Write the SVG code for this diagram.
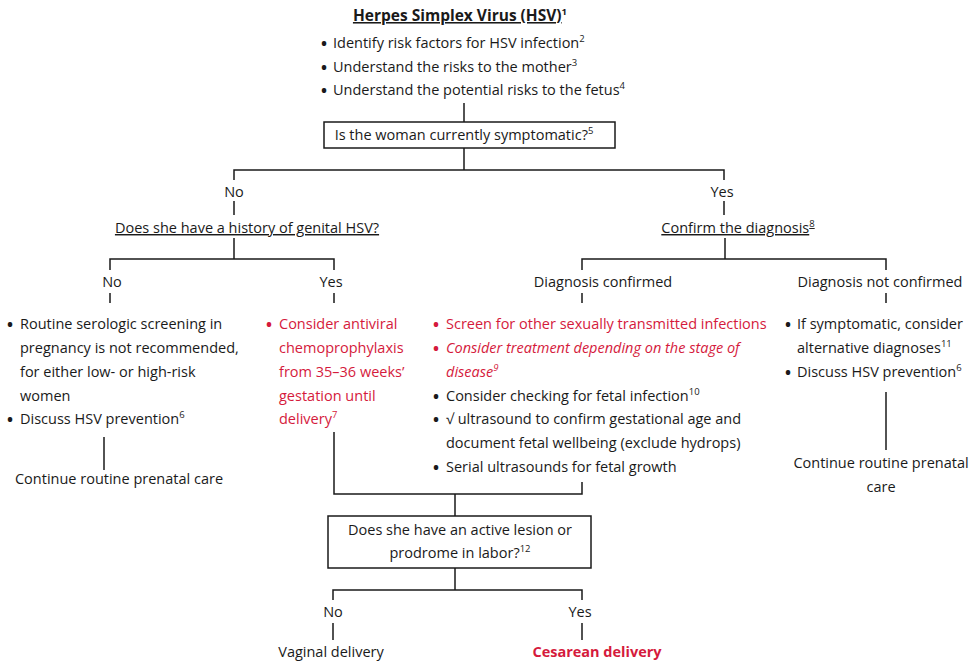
<svg xmlns="http://www.w3.org/2000/svg" width="974" height="664" viewBox="0 0 974 664">
  <style>
    text { font-family: "Open Sans", "Noto Sans", "Liberation Sans", sans-serif; font-size: 14.5px; fill: #1a1a1a; }
    .c { text-anchor: middle; }
    .red, .red text, .red tspan { fill: #d51a3c; }
    .it { font-style: italic; }
    .b { font-weight: bold; }
    .u { text-decoration: underline; }
    .title { font-size: 15.5px; }
    .sup { font-size: 9.5px; }
    .bul { font-size: 16px; font-weight: bold; }
    .ln { stroke: #1a1a1a; stroke-width: 1.5; fill: none; }
    .box { stroke: #1a1a1a; stroke-width: 1.5; fill: #ffffff; }
  </style>

  <!-- connectors -->
  <g id="connectors" class="ln">
    <path d="M464 103V122"/>
    <path d="M464 148V170M234 180V170H724V180"/>
    <path d="M234 201V215M234 238V259M110 270V259H334V270"/>
    <path d="M724 201V215M725 238V259M582 270V259H886V270"/>
    <path d="M110 293V303M334 293V303M582 293V303M886 293V303"/>
    <path d="M104 437V470"/>
    <path d="M886 392V450"/>
    <path d="M334 432V494H582V482M455 494V516"/>
    <path d="M455 568V590M333 600V590H582V600"/>
    <path d="M333 623V640M582 623V640"/>
  </g>

  <!-- header -->
  <g id="title">
    <text class="c b title" x="460" y="21"><tspan class="u">Herpes Simplex Virus (HSV)</tspan><tspan class="sup" dy="-6">1</tspan></text>
    <text x="321" y="48"><tspan class="bul" dy="1">•</tspan><tspan x="333" dy="-1">Identify risk factors for HSV infection</tspan><tspan class="sup" dy="-6">2</tspan></text>
    <text x="321" y="72"><tspan class="bul" dy="1">•</tspan><tspan x="333" dy="-1">Understand the risks to the mother</tspan><tspan class="sup" dy="-6">3</tspan></text>
    <text x="321" y="95"><tspan class="bul" dy="1">•</tspan><tspan x="333" dy="-1">Understand the potential risks to the fetus</tspan><tspan class="sup" dy="-6">4</tspan></text>
  </g>

  <g id="q-symptomatic">
    <rect class="box" x="324" y="122" width="291" height="26"/>
    <text class="c" x="464" y="140">Is the woman currently symptomatic?<tspan class="sup" dy="-6">5</tspan></text>
  </g>

  <!-- not symptomatic branch -->
  <g id="no-symptoms">
    <text class="c" x="234" y="197">No</text>
  </g>
  <g id="q-history">
    <text class="c u" x="247" y="233">Does she have a history of genital HSV?</text>
  </g>
  <g id="no-history">
    <text class="c" x="112" y="287">No</text>
    <text x="7" y="329"><tspan class="bul" dy="1">•</tspan><tspan x="20" dy="-1">Routine serologic screening in</tspan></text>
    <text x="20" y="353">pregnancy is not recommended,</text>
    <text x="20" y="377">for either low- or high-risk</text>
    <text x="20" y="401">women</text>
    <text x="7" y="424"><tspan class="bul" dy="1">•</tspan><tspan x="20" dy="-1">Discuss HSV prevention</tspan><tspan class="sup" dy="-6">6</tspan></text>
  </g>
  <g id="continue-left">
    <text class="c" x="119" y="484">Continue routine prenatal care</text>
  </g>
  <g id="yes-history">
    <text class="c" x="331" y="287">Yes</text>
    <g class="red">
      <text x="266" y="329"><tspan class="bul" dy="1">•</tspan><tspan x="279" dy="-1">Consider antiviral</tspan></text>
      <text x="279" y="353">chemoprophylaxis</text>
      <text x="279" y="377">from 35–36 weeks’</text>
      <text x="279" y="401">gestation until</text>
      <text x="279" y="424">delivery<tspan class="sup" dy="-6">7</tspan></text>
    </g>
  </g>

  <!-- symptomatic branch -->
  <g id="yes-symptoms">
    <text class="c" x="722" y="197">Yes</text>
  </g>
  <g id="confirm-diagnosis">
    <text class="c u" x="738" y="233">Confirm the diagnosis<tspan class="sup" dy="-6">8</tspan></text>
  </g>
  <g id="diagnosis-confirmed">
    <text class="c" x="603" y="287">Diagnosis confirmed</text>
    <g class="red">
      <text x="433" y="329"><tspan class="bul" dy="1">•</tspan><tspan x="446" dy="-1">Screen for other sexually transmitted infections</tspan></text>
      <text x="433" y="353"><tspan class="bul" dy="1">•</tspan><tspan class="it" x="446" dy="-1">Consider treatment depending on the stage of</tspan></text>
      <text class="it" x="446" y="377">disease<tspan class="sup" dy="-6">9</tspan></text>
    </g>
    <text x="433" y="401"><tspan class="bul" dy="1">•</tspan><tspan x="446" dy="-1">Consider checking for fetal infection</tspan><tspan class="sup" dy="-6">10</tspan></text>
    <text x="433" y="424"><tspan class="bul" dy="1">•</tspan><tspan x="446" dy="-1">√ ultrasound to confirm gestational age and</tspan></text>
    <text x="446" y="448">document fetal wellbeing (exclude hydrops)</text>
    <text x="433" y="472"><tspan class="bul" dy="1">•</tspan><tspan x="446" dy="-1">Serial ultrasounds for fetal growth</tspan></text>
  </g>
  <g id="diagnosis-not-confirmed">
    <text class="c" x="880" y="287">Diagnosis not confirmed</text>
    <text x="785" y="329"><tspan class="bul" dy="1">•</tspan><tspan x="797" dy="-1">If symptomatic, consider</tspan></text>
    <text x="797" y="353">alternative diagnoses<tspan class="sup" dy="-6">11</tspan></text>
    <text x="785" y="377"><tspan class="bul" dy="1">•</tspan><tspan x="797" dy="-1">Discuss HSV prevention</tspan><tspan class="sup" dy="-6">6</tspan></text>
  </g>
  <g id="continue-right">
    <text class="c" x="881" y="468">Continue routine prenatal</text>
    <text class="c" x="881" y="492">care</text>
  </g>

  <!-- labor -->
  <g id="q-labor">
    <rect class="box" x="328" y="516" width="263" height="52"/>
    <text class="c" x="460" y="535">Does she have an active lesion or</text>
    <text class="c" x="460" y="558">prodrome in labor?<tspan class="sup" dy="-6">12</tspan></text>
  </g>
  <g id="no-lesion">
    <text class="c" x="333" y="617">No</text>
    <text class="c" x="331" y="657">Vaginal delivery</text>
  </g>
  <g id="yes-lesion">
    <text class="c" x="580" y="617">Yes</text>
    <text class="c b red" x="597" y="657">Cesarean delivery</text>
  </g>
</svg>
